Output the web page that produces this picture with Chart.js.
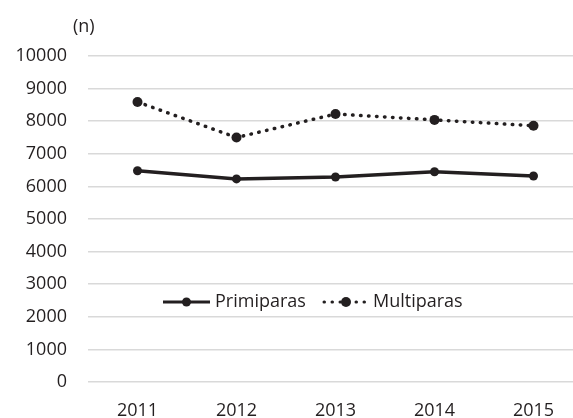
<!DOCTYPE html>
<html>
<head>
<meta charset="utf-8">
<script src="https://cdn.jsdelivr.net/npm/chart.js@4/dist/chart.umd.min.js"></script>
<style>
  html, body { margin: 0; padding: 0; background: #fff; overflow: hidden; }
  #wrap { width: 588px; height: 418px; position: relative; }
</style>
</head>
<body>
<div id="wrap"><canvas id="chart"></canvas></div>
<script>
const years = ['2011', '2012', '2013', '2014', '2015'];
const primiparas = [6480, 6230, 6290, 6450, 6320];
const multiparas = [8590, 7500, 8220, 8040, 7860];
const yTicks = [0, 1000, 2000, 3000, 4000, 5000, 6000, 7000, 8000, 9000, 10000];
const unitLabel = '(n)';

const FONT = '"Open Sans", sans-serif';
const INK = '#231f20';

// draws the legend inside the plot area plus the "(n)" unit label
const extras = {
    id: 'extras',
    afterDraw(chart) {
        const ctx = chart.ctx;
        ctx.save();
        ctx.font = '18px ' + FONT;
        ctx.fillStyle = INK;
        ctx.textBaseline = 'middle';
        ctx.textAlign = 'left';
        ctx.fillText(unitLabel, 73, 27);

        const y = 302;
        const items = [
            { x0: 163, x1: 210, text: 'Primiparas', ds: chart.data.datasets[0] },
            { x0: 324, x1: 368, text: 'Multiparas', ds: chart.data.datasets[1] }
        ];
        items.forEach(it => {
            ctx.strokeStyle = INK;
            ctx.lineWidth = 3;
            ctx.lineCap = it.ds.borderCapStyle || 'butt';
            ctx.setLineDash(it.ds.borderDash || []);
            ctx.beginPath();
            ctx.moveTo(it.x0, y);
            ctx.lineTo(it.x1, y);
            ctx.stroke();
            ctx.setLineDash([]);
            ctx.fillStyle = INK;
            ctx.beginPath();
            ctx.arc((it.x0 + it.x1) / 2, y, it.ds.pointRadius, 0, Math.PI * 2);
            ctx.fill();
            ctx.fillText(it.text, it.x1 + 5, y);
        });
        ctx.restore();
    }
};

new Chart(document.getElementById('chart'), {
    type: 'line',
    data: {
        labels: years,
        datasets: [
            {
                label: 'Primiparas',
                data: primiparas,
                borderColor: INK,
                backgroundColor: INK,
                borderWidth: 3.5,
                pointRadius: 4.5,
                pointBorderWidth: 0,
                tension: 0
            },
            {
                label: 'Multiparas',
                data: multiparas,
                borderColor: INK,
                backgroundColor: INK,
                borderWidth: 3.5,
                borderDash: [0.5, 7.5],
                borderCapStyle: 'round',
                pointRadius: 5,
                pointBorderWidth: 0,
                tension: 0
            }
        ]
    },
    options: {
        responsive: true,
        maintainAspectRatio: false,
        animation: false,
        layout: { padding: { top: 56, right: 0, bottom: 0, left: 0 } },
        plugins: {
            legend: { display: false },
            tooltip: { enabled: false }
        },
        scales: {
            x: {
                offset: true,
                grid: { display: false, drawTicks: false },
                border: { display: false },
                ticks: { color: INK, font: { family: FONT, size: 18 }, padding: 18, maxRotation: 0 },
                afterFit(scale) { scale.height = 36; }
            },
            y: {
                min: 0,
                max: 10000,
                afterBuildTicks(scale) { scale.ticks = yTicks.map(v => ({ value: v })); },
                grid: { color: '#d9d9d9', lineWidth: 1.5, drawTicks: false },
                border: { display: false },
                ticks: {
                    color: INK,
                    font: { family: FONT, size: 18 },
                    padding: 21,
                    callback: v => String(v)
                },
                afterFit(scale) { scale.width = 88; }
            }
        }
    },
    plugins: [extras]
});
</script>
</body>
</html>
